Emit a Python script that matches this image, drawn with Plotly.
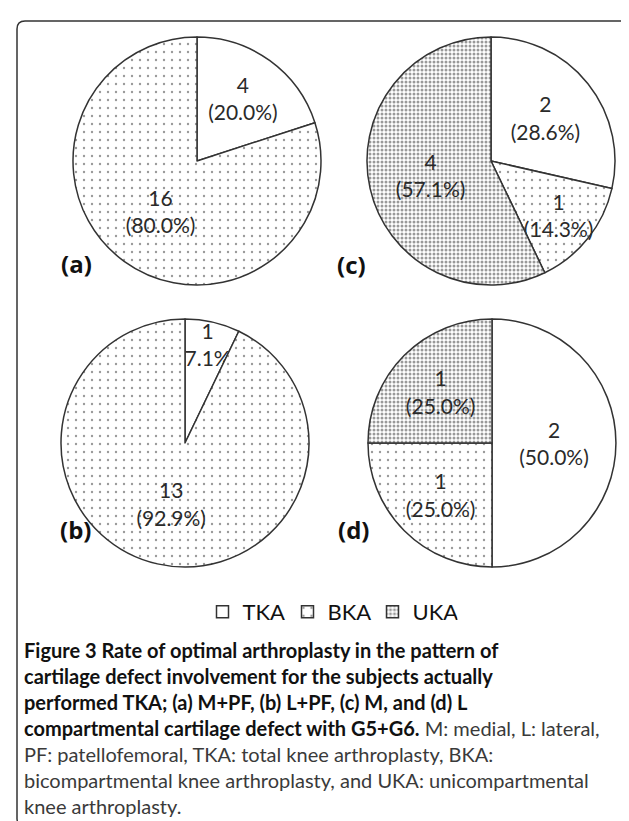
import plotly.graph_objects as go

W, H = 629, 821

# ---- data ----
cats = ["TKA", "BKA", "UKA"]
labels_a = ["TKA", "BKA"]
values_a = [4, 16]
labels_b = ["TKA", "BKA"]
values_b = [1, 13]
labels_c = ["TKA", "BKA", "UKA"]
values_c = [2, 1, 4]
labels_d = ["TKA", "BKA", "UKA"]
values_d = [2, 1, 1]
panel_tags = ["(a)", "(b)", "(c)", "(d)"]

caption = ("<b>Figure 3 Rate of optimal arthroplasty in the pattern of<br>"
           "cartilage defect involvement for the subjects actually<br>"
           "performed TKA; (a) M+PF, (b) L+PF, (c) M, and (d) L<br>"
           "compartmental cartilage defect with G5+G6.</b>"
           "<span style='color:#3a3a3a'> M: medial, L: lateral,<br>"
           "PF: patellofemoral, TKA: total knee arthroplasty, BKA:<br>"
           "bicompartmental knee arthroplasty, and UKA: unicompartmental<br>"
           "knee arthroplasty.</span>")

# ---- styles ----
pat = {
    "TKA": dict(shape="", size=8, solidity=0.1),
    "BKA": dict(shape=".", size=8, solidity=0.07),
    "UKA": dict(shape=".", size=4, solidity=0.45),
}

def px_dom(cx, cy, r):
    return dict(x=[(cx - r) / W, (cx + r) / W], y=[1 - (cy + r) / H, 1 - (cy - r) / H])

geo = {
    "(a)": (189, 153, 124),
    "(c)": (483, 153, 124),
    "(b)": (177, 435, 124),
    "(d)": (484, 435, 124),
}

fig = go.Figure()
for tag, labs, vals in [("(a)", labels_a, values_a), ("(b)", labels_b, values_b),
                        ("(c)", labels_c, values_c), ("(d)", labels_d, values_d)]:
    cx, cy, r = geo[tag]
    fig.add_trace(go.Pie(
        labels=labs, values=vals, sort=False, direction="clockwise", rotation=0,
        domain=px_dom(cx, cy, r),
        texttemplate="%{value}<br>(%{percent:.1%})",
        textposition="inside", insidetextorientation="horizontal",
        textfont=dict(family="Lato", size=21, color="#2a2a2a"),
        marker=dict(
            colors=["white"] * len(labs),
            line=dict(color="#333333", width=1.5),
            pattern=dict(
                shape=[pat[l]["shape"] for l in labs],
                size=[pat[l]["size"] for l in labs],
                solidity=[pat[l]["solidity"] for l in labs],
                fgcolor="#333333", bgcolor="white", fillmode="overlay",
            ),
        ),
        hoverinfo="label+value+percent",
    ))

tag_pos = {"(a)": (51, 237), "(c)": (343, 238), "(b)": (50, 521), "(d)": (345, 521)}
for tag in panel_tags:
    x, y = tag_pos[tag]
    fig.add_annotation(x=x / W, y=1 - y / H, xref="paper", yref="paper",
                       text="<b>%s</b>" % tag, showarrow=False,
                       font=dict(family="Open Sans", size=24, color="#111"))

fig.add_annotation(x=14 / W, y=1 - 628 / H, xref="paper", yref="paper",
                   xanchor="left", yanchor="top", align="left",
                   text=caption, showarrow=False,
                   font=dict(family="Lato", size=20, color="#111"))

# rounded frame
x0, x1, y0, y1, rr = 9, 628, 13, 819, 8
def P(x, y):
    return "%.5f,%.5f" % (x / W, 1 - y / H)
path = ("M " + P(x0 + rr, y0) + " L " + P(x1 - rr, y0) + " Q " + P(x1, y0) + " " + P(x1, y0 + rr) +
        " L " + P(x1, y1 - rr) + " Q " + P(x1, y1) + " " + P(x1 - rr, y1) +
        " L " + P(x0 + rr, y1) + " Q " + P(x0, y1) + " " + P(x0, y1 - rr) +
        " L " + P(x0, y0 + rr) + " Q " + P(x0, y0) + " " + P(x0 + rr, y0) + " Z")
fig.add_shape(type="path", path=path, xref="paper", yref="paper",
              line=dict(color="#333", width=1.5), fillcolor="rgba(0,0,0,0)")

fig.update_layout(
    width=W, height=H, margin=dict(l=0, r=0, t=0, b=0),
    paper_bgcolor="white", plot_bgcolor="white",
    font=dict(family="Lato", color="#111"),
    uniformtext=dict(minsize=21, mode="show"),
    showlegend=True,
    legend=dict(orientation="h", x=322 / W, xanchor="center", y=1 - 604 / H, yanchor="middle",
                font=dict(family="Lato", size=22, color="#111"), traceorder="normal",
                itemwidth=30, entrywidth=40, entrywidthmode="pixels",
                bgcolor="rgba(0,0,0,0)"),
)

fig.write_html("out.html")
